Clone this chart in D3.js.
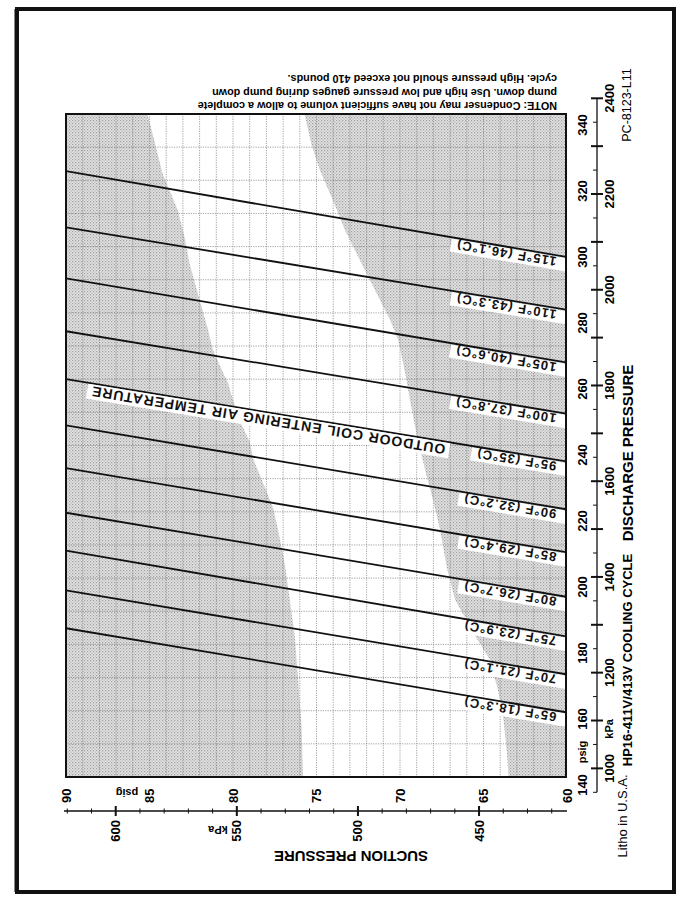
<!DOCTYPE html>
<html>
<head>
<meta charset="utf-8">
<script src="https://cdn.jsdelivr.net/npm/d3@7"></script>
<style>
  html, body { margin: 0; padding: 0; background: #fff; }
  svg { display: block; font-family: "Liberation Sans", Arial, sans-serif; }
</style>
</head>
<body>
<svg id="chart" width="684" height="902"></svg>
<script>
// ---- data ----
const tempsF = [115, 110, 105, 100, 95, 90, 85, 80, 75, 70, 65];
const tempLabels = ["115°F (46.1°C)", "110°F (43.3°C)", "105°F (40.6°C)", "100°F (37.8°C)",
  "95°F (35°C)", "90°F (32.2°C)", "85°F (29.4°C)", "80°F (26.7°C)", "75°F (23.9°C)",
  "70°F (21.1°C)", "65°F (18.3°C)"];
// discharge pressure (psig) of each line at suction 90 psig and at suction 60 psig
const dischargeAtSuction90 = [326, 309, 293.5, 277.5, 263, 249, 236, 222.5, 211, 199, 187.5];
const dischargeAtSuction60 = [300, 284, 268, 252.5, 238, 223.5, 210.5, 197, 185, 173.5, 162];

// un-shaded band: [suction psig, discharge psig]
const bandLeftEdge = [[85.1, 343], [84.6, 333], [84.2, 325], [83.3, 314.2], [82.9, 306], [82.6, 298],
  [82.0, 287], [81.5, 278], [81.2, 271.8], [80.6, 265], [80.3, 261.8], [79.7, 251.5], [79.0, 244],
  [78.8, 239], [78.2, 231.5], [77.6, 224], [77.3, 217.3], [76.9, 207], [76.6, 196.1],
  [76.3, 185], [76.1, 171.8], [75.9, 158], [75.8, 142.4]];
const bandRightEdge = [[75.7, 343], [75.3, 334], [74.8, 326.4], [74.0, 317], [73.3, 308.2],
  [72.4, 299], [71.5, 290], [70.6, 281], [70.1, 274.8], [69.7, 265], [69.4, 256.7], [69.0, 246],
  [68.5, 235.5], [68.0, 226], [67.6, 217.3], [67.2, 206], [66.7, 196.1], [65.6, 186],
  [64.6, 177.9], [64.1, 168], [63.8, 159.7], [63.6, 150], [63.5, 142.4]];

const suctionPsigTicks = [90, 85, 80, 75, 70, 65, 60];
const suctionKpaLabels = [600, 550, 500, 450];
const dischargePsigTicks = [340, 320, 300, 280, 260, 240, 220, 200, 180, 160, 140];
const dischargeKpaLabels = [2400, 2200, 2000, 1800, 1600, 1400, 1200, 1000];

const noteLines = [
  "NOTE: Condenser may not have sufficient volume to allow a complete",
  "pump down. Use high and low pressure gauges during pump down",
  "cycle. High pressure should not exceed 410 pounds."
];

const KPA_PER_PSI = 6.894757;

// ---- layout ----
const svg = d3.select("#chart");
const box = { left: 66, right: 566, top: 114, bottom: 777 };

const x = d3.scaleLinear().domain([90, 60]).range([66, 567]);      // suction psig
const y = d3.scaleLinear().domain([140, 340]).range([785, 125]);   // discharge psig
const xK = k => x(k / KPA_PER_PSI);
const yK = k => y(k / KPA_PER_PSI);

// outer frame
svg.append("rect").attr("x", 17).attr("y", 9).attr("width", 657).attr("height", 883)
  .attr("fill", "none").attr("stroke", "#111").attr("stroke-width", 4);
svg.append("line").attr("x1", 16).attr("x2", 16).attr("y1", 9).attr("y2", 892)
  .attr("stroke", "#111").attr("stroke-width", 3);

const defs = svg.append("defs");
defs.append("clipPath").attr("id", "plotclip").append("rect")
  .attr("x", box.left).attr("y", box.top)
  .attr("width", box.right - box.left).attr("height", box.bottom - box.top);

// halftone pattern
const pat = defs.append("pattern").attr("id", "halftone").attr("patternUnits", "userSpaceOnUse")
  .attr("width", 3).attr("height", 3);
pat.append("rect").attr("width", 3).attr("height", 3).attr("fill", "#e2e2e2");
pat.append("rect").attr("x", 0).attr("y", 0).attr("width", 1.2).attr("height", 1.2).attr("fill", "#a0a0a0");
pat.append("rect").attr("x", 1.5).attr("y", 1.5).attr("width", 1.2).attr("height", 1.2).attr("fill", "#b2b2b2");

const plot = svg.append("g").attr("clip-path", "url(#plotclip)");
plot.append("rect").attr("x", box.left).attr("y", box.top)
  .attr("width", box.right - box.left).attr("height", box.bottom - box.top)
  .attr("fill", "url(#halftone)");

// white band
const bandPts = bandLeftEdge.concat(bandRightEdge.slice().reverse());
plot.append("path")
  .attr("d", d3.line().x(d => x(d[0])).y(d => y(d[1])).curve(d3.curveLinearClosed)(bandPts))
  .attr("fill", "#fff");

// grid
const gridV = d3.range(61, 90);
plot.selectAll("line.gv").data(gridV).join("line")
  .attr("x1", d => x(d)).attr("x2", d => x(d)).attr("y1", box.top).attr("y2", box.bottom)
  .attr("stroke", "#7a7a7a").attr("stroke-width", 0.7).attr("stroke-dasharray", "1.2,1.2");
const gridY = d3.scaleLinear().domain([0, 20]).range([box.bottom, box.top]);
plot.selectAll("line.gh").data(d3.range(1, 20)).join("line")
  .attr("x1", box.left).attr("x2", box.right).attr("y1", d => gridY(d)).attr("y2", d => gridY(d))
  .attr("stroke", "#7a7a7a").attr("stroke-width", 0.7).attr("stroke-dasharray", "1.2,1.2");

// temperature lines
const lines = tempsF.map((t, i) => ({ t, label: tempLabels[i], a: dischargeAtSuction90[i], b: dischargeAtSuction60[i] }));
plot.selectAll("line.temp").data(lines).join("line")
  .attr("x1", x(90)).attr("y1", d => y(d.a)).attr("x2", x(60)).attr("y2", d => y(d.b))
  .attr("stroke", "#111").attr("stroke-width", 1.8);

// labels along lines (upside down)
function lineY(d, px) { const s = x.invert(px); return y(d.a + (d.b - d.a) * (90 - s) / 30); }
function lineAngle(d) { return Math.atan2(y(d.b) - y(d.a), x(60) - x(90)) * 180 / Math.PI; }

const lab = plot.selectAll("g.tl").data(lines).join("g")
  .attr("transform", d => `translate(557,${lineY(d, 557) + 2}) rotate(${180 + lineAngle(d)})`);
lab.append("rect").attr("x", -11).attr("y", -12.5).attr("height", 13)
  .attr("width", 0).attr("fill", "#fff");
lab.append("text").text(d => d.label)
  .attr("font-size", 13).attr("font-weight", "bold").attr("letter-spacing", 1.1).attr("fill", "#111");
lab.each(function () {
  const g = d3.select(this);
  const w = g.select("text").node().getComputedTextLength();
  g.select("rect").attr("width", w + 16);
});

// OUTDOOR COIL label, below the 95°F line
const l95 = lines[4];
const og = plot.append("g")
  .attr("transform", `translate(446,${lineY(l95, 446) + 3}) rotate(${180 + lineAngle(l95)})`);
const ot = og.append("text").text("OUTDOOR COIL ENTERING AIR TEMPERATURE")
  .attr("font-size", 14).attr("font-weight", "bold").attr("fill", "#111").attr("letter-spacing", 1.0);
const ow = ot.node().getComputedTextLength();
og.insert("rect", "text").attr("x", -4).attr("y", -13).attr("width", ow + 8).attr("height", 15).attr("fill", "#fff");

// plot border
svg.append("rect").attr("x", box.left).attr("y", box.top)
  .attr("width", box.right - box.left).attr("height", box.bottom - box.top)
  .attr("fill", "none").attr("stroke", "#111").attr("stroke-width", 2);

// ---- bottom axis: suction ----
const axY = 811;
const kpaTicksB = d3.range(420, 621, 10);
const gB = svg.append("g").attr("transform", `translate(0,${axY})`);
gB.append("line").attr("x1", 64).attr("x2", 567).attr("stroke", "#111").attr("stroke-width", 1.3);
gB.selectAll("line.t").data(kpaTicksB).join("line")
  .attr("x1", d => xK(d)).attr("x2", d => xK(d))
  .attr("y1", d => d % 50 === 0 ? -5 : -2.5).attr("y2", d => d % 50 === 0 ? 5 : 2.5)
  .attr("stroke", "#111").attr("stroke-width", d => d % 50 === 0 ? 2 : 1);
gB.selectAll("text.p").data(suctionPsigTicks).join("text")
  .attr("transform", d => `translate(${x(d)},-8) rotate(-90)`)
  .attr("dy", "0.35em").attr("font-size", 13).attr("font-weight", "bold").text(d => d);
gB.selectAll("text.k").data(suctionKpaLabels).join("text")
  .attr("transform", d => `translate(${xK(d)},9) rotate(-90)`)
  .attr("text-anchor", "end").attr("dy", "0.35em").attr("font-size", 13).attr("font-weight", "bold").text(d => d);
gB.append("text").attr("transform", `translate(127,-18) rotate(180)`)
  .attr("text-anchor", "middle").attr("dy", "0.35em").attr("font-size", 11).attr("font-weight", "bold").text("psig");
gB.append("text").attr("transform", `translate(218,19) rotate(180)`)
  .attr("text-anchor", "middle").attr("dy", "0.35em").attr("font-size", 11).attr("font-weight", "bold").text("kPa");
svg.append("text").attr("transform", `translate(351,856) rotate(180)`)
  .attr("text-anchor", "middle").attr("dy", "0.35em").attr("font-size", 15).attr("font-weight", "bold")
  .text("SUCTION PRESSURE");

// ---- right axis: discharge ----
const axX = 597;
const kpaTicksR = d3.range(950, 2401, 50);
const gR = svg.append("g").attr("transform", `translate(${axX},0)`);
gR.append("line").attr("y1", yK(950)).attr("y2", yK(2400)).attr("stroke", "#111").attr("stroke-width", 1.3);
gR.selectAll("line.t").data(kpaTicksR).join("line")
  .attr("y1", d => yK(d)).attr("y2", d => yK(d))
  .attr("x1", d => d % 100 === 0 ? -6 : -4).attr("x2", d => d % 100 === 0 ? 6 : 0)
  .attr("stroke", "#111").attr("stroke-width", d => d % 100 === 0 ? 2 : 1);
gR.selectAll("text.p").data(dischargePsigTicks).join("text")
  .attr("transform", d => `translate(-15,${y(d)}) rotate(-90)`)
  .attr("text-anchor", "middle").attr("dy", "0.35em").attr("font-size", 13).attr("font-weight", "bold").text(d => d);
gR.selectAll("text.k").data(dischargeKpaLabels).join("text")
  .attr("transform", d => `translate(12,${yK(d)}) rotate(-90)`)
  .attr("text-anchor", "middle").attr("dy", "0.35em").attr("font-size", 13).attr("font-weight", "bold").text(d => d);
gR.append("text").attr("transform", `translate(-15,${y(150)}) rotate(-90)`)
  .attr("text-anchor", "middle").attr("dy", "0.35em").attr("font-size", 11).attr("font-weight", "bold").text("psig");
gR.append("text").attr("transform", `translate(12,${y(157)}) rotate(-90)`)
  .attr("text-anchor", "middle").attr("dy", "0.35em").attr("font-size", 11).attr("font-weight", "bold").text("kPa");

svg.append("text").attr("transform", `translate(628,453) rotate(-90)`)
  .attr("text-anchor", "middle").attr("dy", "0.35em").attr("font-size", 15).attr("font-weight", "bold")
  .text("DISCHARGE PRESSURE");
svg.append("text").attr("transform", `translate(627,660) rotate(-90)`)
  .attr("text-anchor", "middle").attr("dy", "0.35em").attr("font-size", 13).attr("font-weight", "bold")
  .text("HP16-411V/413V COOLING CYCLE");
svg.append("text").attr("transform", `translate(627,105) rotate(-90)`)
  .attr("text-anchor", "middle").attr("dy", "0.35em").attr("font-size", 12.5)
  .text("PC-8123-L11");
svg.append("text").attr("transform", `translate(622,816) rotate(-90)`)
  .attr("text-anchor", "middle").attr("dy", "0.35em").attr("font-size", 13)
  .text("Litho in U.S.A.");

// ---- note (upside down) ----
svg.selectAll("text.note").data(noteLines).join("text")
  .attr("transform", (d, i) => `translate(557,${102 - i * 13.5}) rotate(180)`)
  .attr("font-size", 10.8).attr("font-weight", "bold").text(d => d);
</script>
</body>
</html>
